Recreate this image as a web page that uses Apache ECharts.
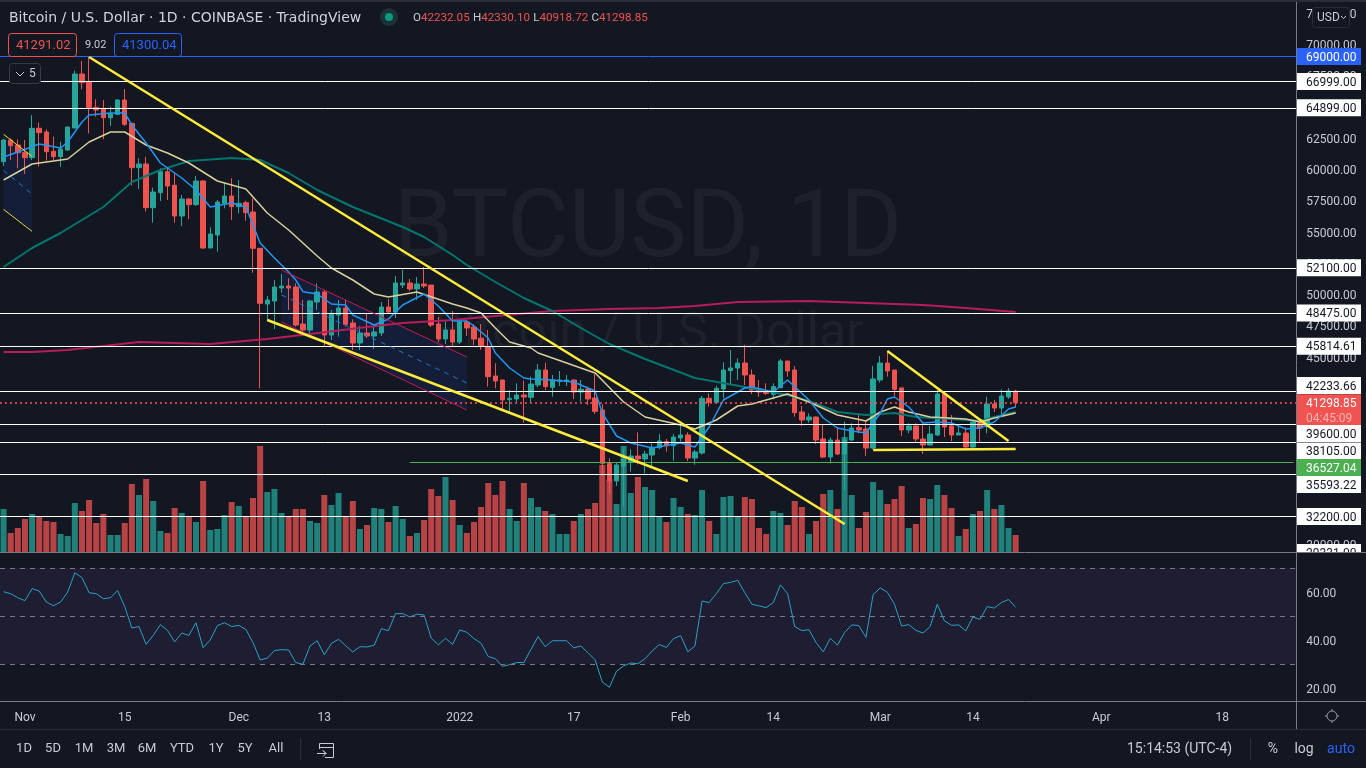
<!DOCTYPE html>
<html>
<head>
<meta charset="utf-8">
<title>BTCUSD</title>
<script src="https://cdn.jsdelivr.net/npm/echarts@6/dist/echarts.min.js"></script>
<style>
  html, body { margin: 0; padding: 0; background: #131722; }
  #box { width: 1366px; height: 768px; }
</style>
</head>
<body>
<div id="box"></div>
<script>
// first bar on screen is Oct 29 2021, the axis runs on past the last candle
const firstDay = Date.UTC(2021, 9, 29);
const dayCount = 182;
const dates = [];
for (let i = 0; i < dayCount; i++) {
  dates.push(new Date(firstDay + i * 86400000).toISOString().slice(0, 10));
}

const tickDates = ['2021-11-01', '2021-11-15', '2021-12-01', '2021-12-13', '2022-01-01', '2022-01-17',
  '2022-02-01', '2022-02-14', '2022-03-01', '2022-03-14', '2022-04-01', '2022-04-18'];
const tickLabels = ['Nov', '15', 'Dec', '13', '2022', '17', 'Feb', '14', 'Mar', '14', 'Apr', '18'];
const priceTicks = [30000, 32500, 35000, 37500, 40000, 42500, 45000, 47500, 50000, 52500, 55000, 57500,
  60000, 62500, 65000, 67500, 70000, 72500];
const rsiTicks = [20, 40, 60];

const openP = [
  60587, 62320, 61920, 61307, 60907, 63253, 62960, 61413, 60987, 61520,
  63280, 67600, 66987, 64933, 64800, 64107, 64373, 65520, 63653, 60107,
  60400, 56907, 58107, 59787, 58693, 56240, 57600, 57147, 59040, 53680,
  54720, 57253, 57840, 56987, 57307, 56560, 53653, 49200, 49440, 50480,
  50640, 50560, 47600, 47120, 49360, 50160, 46720, 48320, 48880, 47680,
  46080, 46880, 46640, 46880, 48960, 48560, 50720, 50880, 50400, 50800,
  50720, 47600, 46400, 47120, 46160, 47760, 47360, 46470, 45770, 43440,
  43120, 41547, 41600, 41920, 41733, 42720, 43920, 42533, 43013, 43040,
  43120, 42160, 42400, 41680, 40720, 36453, 35040, 36240, 36533, 37040,
  36800, 37120, 37707, 38187, 37867, 38480, 38720, 36880, 37280, 41653,
  41333, 42400, 43867, 44080, 44480, 43520, 42400, 42240, 41973, 42507,
  44640, 43920, 40560, 39920, 40160, 38400, 36960, 38320, 37200, 38320,
  39307, 39200, 37680, 43120, 44480, 43920, 42480, 39120, 39440, 38400,
  37920, 38720, 42000, 39440, 38720, 38880, 37760, 39680, 39387, 41200,
  40880, 41760, 42232.05];
const closeP = [
  62320, 61867, 61307, 60907, 63253, 62907, 61387, 60987, 61600, 63360,
  67600, 66907, 64907, 64720, 64107, 64400, 65520, 63573, 60107, 60400,
  56907, 58160, 59787, 58640, 56240, 57600, 57147, 59040, 53680, 54800,
  57360, 57840, 56987, 57253, 56507, 53653, 49253, 49520, 50560, 50640,
  50480, 47520, 47120, 49440, 50160, 46720, 48453, 48880, 47573, 46080,
  46880, 46640, 46960, 48960, 48560, 50880, 50880, 50400, 50800, 50640,
  47520, 46400, 47120, 46160, 47760, 47280, 46400, 45790, 43390, 43040,
  41520, 41653, 41920, 41760, 42800, 43920, 42587, 43120, 43120, 43120,
  42160, 42373, 41600, 40613, 36453, 35040, 36320, 36773, 37040, 36800,
  37200, 37733, 38240, 37867, 38560, 38720, 36880, 37360, 41653, 41333,
  42453, 43920, 44080, 44480, 43520, 42320, 42160, 42053, 42587, 44640,
  43840, 40507, 39920, 40160, 38320, 36960, 38320, 37200, 38320, 39280,
  39120, 37680, 43200, 44480, 43840, 42373, 39120, 39440, 38400, 37920,
  38800, 42000, 39360, 38720, 38880, 37760, 39760, 39280, 41200, 40880,
  41840, 42240, 41298.85];
const highP = [
  62373, 62453, 62373, 62320, 64320, 63707, 63173, 62587, 62187, 63387,
  67867, 68640, 68987, 65573, 65520, 64987, 65573, 66400, 63653, 60853,
  60987, 58507, 60053, 60053, 59653, 57920, 57653, 59440, 59120, 55333,
  57520, 58907, 59253, 59120, 57467, 57653, 53653, 49840, 51120, 51600,
  51253, 50853, 49520, 49520, 50853, 50320, 48720, 49520, 49520, 47973,
  47440, 48400, 47520, 49360, 49600, 51440, 51950, 51200, 51360, 52160,
  50720, 48160, 47920, 48640, 47970, 47920, 47600, 47600, 47120, 44453,
  43173, 42320, 42853, 43067, 43387, 44400, 44507, 43520, 43840, 43520,
  43173, 43120, 42587, 43600, 41200, 36853, 36533, 37600, 37573, 38933,
  37440, 38053, 38800, 38400, 38800, 39573, 38933, 37520, 41840, 42053,
  42667, 44533, 45520, 44853, 45920, 43973, 43120, 42853, 42853, 44800,
  44640, 44240, 41040, 40453, 40187, 39520, 38533, 39307, 39787, 39653,
  40320, 39787, 44240, 45040, 45467, 43920, 42533, 39653, 39653, 39653,
  39440, 42320, 42187, 40320, 39467, 39333, 39920, 39973, 41787, 41520,
  42373, 42480, 42330.1];
const lowP = [
  60240, 60720, 60053, 59600, 60720, 60187, 60667, 60720, 60187, 61467,
  63280, 66373, 62853, 64187, 62373, 63440, 64320, 63440, 58693, 58400,
  56613, 55707, 57440, 57520, 55707, 55440, 55973, 57040, 53627, 53680,
  53387, 56853, 55920, 56453, 55867, 51707, 42453, 47867, 47200, 50107,
  48720, 47387, 46853, 46800, 48720, 45840, 46320, 46587, 47387, 45520,
  45520, 46480, 45600, 46640, 48507, 48080, 50480, 50240, 49520, 50480,
  47360, 46160, 46000, 45760, 46000, 46640, 45900, 45520, 42590, 42453,
  40720, 40507, 41307, 39707, 41307, 42533, 42320, 41787, 42640, 42640,
  41600, 41387, 41120, 40400, 35467, 34053, 34640, 32987, 35787, 36373,
  35653, 36240, 37573, 37387, 36667, 38187, 36640, 36347, 37147, 40987,
  41307, 41653, 42720, 43120, 42720, 42000, 41787, 41920, 41573, 42453,
  43387, 40187, 39440, 39707, 38000, 36880, 36453, 37120, 34320, 38240,
  38853, 37040, 37573, 42907, 43387, 41840, 38640, 38853, 38160, 37200,
  37920, 38640, 38560, 38240, 38720, 37600, 37600, 38160, 38853, 40560,
  40187, 41600, 40918.72];

// volume axis has no scale on screen, so these are relative
const volumeV = [
  43, 19, 24, 33, 38, 35, 31, 30, 18, 16, 49, 41, 52, 29, 38, 17, 17, 29, 68, 57,
  73, 51, 21, 19, 44, 39, 35, 30, 71, 22, 23, 37, 50, 46, 35, 54, 106, 60, 63, 39,
  35, 43, 43, 31, 29, 57, 47, 59, 35, 51, 23, 27, 44, 43, 30, 46, 33, 16, 19, 32,
  63, 56, 75, 52, 27, 19, 30, 45, 69, 57, 71, 43, 31, 69, 54, 45, 41, 38, 18, 18,
  31, 38, 43, 49, 87, 72, 48, 106, 59, 75, 65, 62, 35, 30, 54, 45, 38, 37, 62, 31,
  18, 55, 56, 35, 55, 53, 24, 18, 41, 39, 27, 51, 45, 18, 31, 58, 62, 43, 115, 57,
  24, 40, 70, 62, 48, 53, 66, 24, 28, 54, 53, 67, 57, 44, 16, 23, 38, 41, 62, 43,
  47, 24, 17];

const rsiV = [
  60.1, 59.3, 57.6, 56.4, 61.4, 60.4, 55.8, 54.3, 55.8, 60, 68, 66, 59.7, 59.3, 57.2, 57.6, 60.6, 53.9, 45, 45.6,
  38.2, 41.9, 46.4, 44, 39.2, 42.9, 41.9, 47.2, 36.8, 40, 46, 47.2, 45.6, 46.1, 44.4, 38.9, 31.7, 32.4, 35.6, 36,
  35.8, 30.6, 29.9, 37.5, 39.7, 33.8, 38.6, 40.3, 37.6, 35, 37.2, 37.1, 37.8, 44.7, 43.9, 51, 51, 49.6, 50.8, 50.4,
  40.8, 38, 40.7, 38.2, 44.2, 43.2, 40.6, 38.6, 33.1, 32.2, 29, 29.7, 30.6, 30.6, 36.1, 41.4, 37.2, 39.7, 39.7, 39.7,
  36.7, 37.5, 34.7, 31.7, 22.5, 20.3, 27, 29.2, 30.4, 30.1, 32.2, 35.4, 38.1, 36.9, 40.6, 41.8, 35.1, 37.5, 56.2, 55.6,
  59.3, 63.5, 64, 64.9, 59.7, 54.9, 54.2, 53.5, 55.6, 63, 59.3, 45.6, 43.9, 44.3, 38.9, 35.1, 40.7, 37.9, 43.1, 46.3,
  46, 41.1, 58.9, 61.7, 59.9, 54.9, 45.8, 46.4, 44, 42.9, 45.6, 54.9, 48, 46.1, 46.3, 43.8, 49.6, 48.6, 53.9, 53.3,
  55.6, 56.9, 53.6];

// moving averages as [bar index, price]
const maBlue = [[0, 60960], [2, 61360], [5, 62000], [8, 61680], [9, 62160], [11, 63760], [12, 64320], [15, 64480],
  [17, 64480], [18, 63520], [20, 62080], [22, 60480], [23, 60080], [25, 59280], [27, 58320], [29, 56960], [32, 57280],
  [34, 56960], [36, 54080], [38, 52880], [40, 51760], [41, 51120], [42, 50184], [44, 50000], [46, 49200], [48, 49120],
  [49, 48320], [52, 47520], [54, 48000], [56, 49120], [59, 50000], [61, 49040], [63, 47840], [65, 47840], [66, 47440],
  [68, 46480], [69, 45280], [71, 44080], [73, 43280], [74, 43200], [77, 43120], [80, 42960], [83, 42240], [84, 40480],
  [86, 38640], [88, 38080], [91, 37680], [95, 38080], [97, 37760], [99, 39360], [101, 41520], [104, 42480], [105, 42560],
  [108, 42160], [110, 43120], [113, 41520], [115, 40080], [117, 39280], [119, 39040], [121, 38880], [123, 40480],
  [124, 41600], [125, 41760], [127, 40960], [129, 39680], [131, 39760], [133, 39680], [135, 39200], [137, 39280],
  [139, 39760], [141, 40800], [142, 40960]];
const maTan = [[0, 59120], [4, 60400], [9, 60800], [12, 62160], [15, 62960], [17, 62960], [20, 61920], [23, 61280],
  [26, 60480], [30, 59040], [34, 58400], [37, 56480], [40, 55120], [44, 53040], [46, 52080], [49, 51120], [52, 50000],
  [54, 49760], [58, 50160], [63, 49200], [65, 48880], [67, 48480], [69, 47280], [71, 46160], [74, 45680], [75, 45280],
  [79, 44480], [83, 43680], [87, 41360], [90, 40160], [95, 39520], [97, 39200], [100, 39920], [103, 41040], [105, 41200],
  [110, 42000], [113, 41360], [117, 40320], [121, 39840], [123, 40560], [125, 40960], [127, 40560], [130, 40160],
  [135, 40000], [137, 39760], [139, 40080], [142, 40480]];
const maTeal = [[0, 52160], [4, 53680], [8, 54880], [14, 56960], [18, 58960], [22, 59920], [26, 60640], [32, 60880],
  [36, 60720], [40, 59680], [44, 58320], [49, 56960], [56, 55360], [59, 54560], [63, 53120], [65, 52320], [69, 50960],
  [73, 49680], [77, 48640], [81, 47280], [85, 46000], [90, 44800], [97, 43280], [104, 42560], [110, 41920], [113, 41440],
  [117, 40560], [121, 40320], [125, 40480], [128, 40160], [133, 40000], [137, 39840], [139, 40160], [142, 40560]];
const maRed = [[0, 45360], [4, 45360], [9, 45520], [14, 45840], [19, 46160], [29, 46000], [37, 46400], [43, 46800],
  [51, 47360], [56, 47680], [63, 47920], [69, 48240], [77, 48640], [85, 48800], [92, 48880], [97, 49040], [103, 49360],
  [113, 49440], [121, 49280], [129, 49120], [135, 48880], [142, 48560]];

// drawings on the chart, in [bar index, price]
const yellowLines = [
  [[12, 68960], [118, 31600]],
  [[37, 47920], [96, 35040]],
  [[124, 45440], [141, 38240]],
  [[122, 37520], [142, 37600]]
];
const thinYellowLines = [
  [[0, 62776], [4, 61008]],
  [[0, 56768], [4, 55008]]
];
const pinkLines = [
  [[39, 51920], [65, 44960]],
  [[39, 47760], [65, 40720]]
];
const dashLines = [
  [[39, 49920], [65, 42880]],
  [[0, 59880], [4, 58000]]
];
const channelFills = [
  [[39, 51920], [65, 44960], [65, 40720], [39, 47760]],
  [[0, 62776], [4, 61008], [4, 55008], [0, 56768]]
];

const whiteLevels = [66999, 64899, 52100, 48475, 45814.61, 42233.66, 39600, 38105, 35593.22, 32200];
const blueLevel = 69000;
const greenLevel = 36527.04;
const lastPrice = 41298.85;

// tags on the price scale; tagAt is where the tag sits after the overlapping ones pushed it aside
const tagTexts = ['66999.00', '69000.00', '64899.00', '52100.00', '48475.00', '45814.61', '42233.66', '04:45:09', '41298.85',
  '39600.00', '38105.00', '36527.04', '35593.22', '32200.00', '29331.00'];
const tagAt = [66999, 69000, 64899, 52100, 48475, 45814.61, 42680, 40080, 41298.85, 38840, 37440, 36120, 34760, 32200, 29320];
const tagBg = ['#fff', '#2962ff', '#fff', '#fff', '#fff', '#fff', '#fff', '#f05350', '#f05350', '#fff', '#fff', '#4caf50', '#fff', '#fff', '#fff'];
const tagFg = ['#131722', '#fff', '#131722', '#131722', '#131722', '#131722', '#131722', '#f9b5b3', '#fff', '#131722', '#131722', '#fff', '#131722', '#131722', '#131722'];

const UP = '#26a69a';
const DOWN = '#ef5350';
const BG = '#131722';
const GREY = '#c8cbd3';
const FONT = 'Roboto, "Liberation Sans", sans-serif';

const candleData = openP.map((o, i) => [o, closeP[i], lowP[i], highP[i]]);
const volumeData = volumeV.map((v, i) => ({
  value: v,
  itemStyle: { color: closeP[i] >= openP[i] ? 'rgba(38,166,154,.75)' : 'rgba(239,83,80,.75)' }
}));

function lineSeries(data, color, width, z, type) {
  return {
    type: 'line', data: data, xAxisIndex: 0, yAxisIndex: 0, z: z,
    showSymbol: false, symbol: 'none', silent: true, animation: false,
    lineStyle: { color: color, width: width, type: type || 'solid' }
  };
}

function text(x, y, str, size, fill, extra) {
  return {
    type: 'text', x: x, y: y, z: 100, silent: true,
    style: Object.assign({ text: str, fill: fill, font: size + 'px ' + FONT, textVerticalAlign: 'middle' }, extra || {})
  };
}
function rect(x, y, w, h, fill, stroke, r, z) {
  return {
    type: 'rect', z: z === undefined ? 100 : z, silent: true,
    shape: { x: x, y: y, width: w, height: h, r: r || 0 },
    style: { fill: fill, stroke: stroke || null, lineWidth: 1 }
  };
}
function seg(x1, y1, x2, y2, color) {
  return {
    type: 'line', z: 100, silent: true,
    shape: { x1: x1, y1: y1, x2: x2, y2: y2 },
    style: { stroke: color, lineWidth: 1 }
  };
}

const rangeLabels = ['1D', '5D', '1M', '3M', '6M', 'YTD', '1Y', '5Y', 'All'];
const rangeX = [24, 53, 84, 116, 147, 182, 216, 245, 276];

const chrome = [
  // watermark goes under the series
  { type: 'text', x: 648, y: 232, z: 0, silent: true, style: { text: 'BTCUSD, 1D', fill: 'rgba(120,123,134,.1)', font: '95px ' + FONT, textAlign: 'center', textVerticalAlign: 'middle' } },
  { type: 'text', x: 648, y: 335, z: 0, silent: true, style: { text: 'Bitcoin / U.S. Dollar', fill: 'rgba(120,123,134,.1)', font: '50px ' + FONT, textAlign: 'center', textVerticalAlign: 'middle' } },

  rect(0, 0, 1366, 2, '#2a2e39'),
  rect(1296, 552.5, 70, 12, BG),
  seg(0, 552.5, 1366, 552.5, '#787b86'),
  seg(0, 701.5, 1366, 701.5, '#787b86'),
  seg(0, 729.5, 1366, 729.5, '#2a2e39'),
  seg(1296.5, 2, 1296.5, 729, '#787b86'),

  text(9, 18, 'Bitcoin / U.S. Dollar · 1D · COINBASE · TradingView', 14, '#d1d4dc', { font: '14px "DejaVu Sans", sans-serif' }),
  { type: 'circle', z: 100, silent: true, shape: { cx: 389, cy: 17, r: 9 }, style: { fill: '#1d3236' } },
  { type: 'circle', z: 100, silent: true, shape: { cx: 389, cy: 17, r: 4 }, style: { fill: '#089981' } },
  {
    type: 'text', x: 413, y: 18, z: 100, silent: true,
    style: {
      text: '{g|O}{r|42232.05} {g|H}{r|42330.10} {g|L}{r|40918.72} {g|C}{r|41298.85}',
      textVerticalAlign: 'middle',
      rich: {
        g: { fill: GREY, font: '11.6px ' + FONT },
        r: { fill: DOWN, font: '11.6px ' + FONT }
      }
    }
  },
  rect(8.5, 33.5, 68, 23, BG, DOWN, 3),
  text(16, 45.5, '41291.02', 13, DOWN),
  text(85, 45, '9.02', 11, GREY),
  rect(114.5, 33.5, 67, 23, BG, '#2962ff', 3),
  text(122, 45.5, '41300.04', 13, '#2962ff'),
  rect(9.5, 63.5, 31, 20, BG, '#363a45', 3),
  { type: 'polyline', z: 100, silent: true, shape: { points: [[16, 72], [20, 76], [24, 72]] }, style: { stroke: GREY, fill: null, lineWidth: 1 } },
  text(29, 73.5, '5', 12, GREY),

  rect(1312.5, 7.5, 37, 20, BG, '#2a2e39', 3),
  text(1317, 17.5, 'USD', 12, GREY),
  { type: 'polyline', z: 100, silent: true, shape: { points: [[1341, 16], [1343.5, 18.5], [1346, 16]] }, style: { stroke: GREY, fill: null, lineWidth: 1 } },

  { type: 'circle', z: 100, silent: true, shape: { cx: 1332, cy: 716, r: 5 }, style: { fill: null, stroke: '#9598a1', lineWidth: 1 } },
  seg(1332, 709, 1332, 711, '#9598a1'), seg(1332, 721, 1332, 723, '#9598a1'), seg(1325, 716, 1327, 716, '#9598a1'), seg(1337, 716, 1339, 716, '#9598a1'),

  seg(300.5, 738, 300.5, 760, '#2a2e39'),
  { type: 'polyline', z: 100, silent: true, shape: { points: [[319.5, 749], [319.5, 743.5], [333.5, 743.5], [333.5, 757.5], [325, 757.5]] }, style: { stroke: GREY, fill: null, lineWidth: 1 } },
  seg(320, 747.5, 333, 747.5, GREY),
  { type: 'polyline', z: 100, silent: true, shape: { points: [[317, 753.5], [326, 753.5], [323, 750.5], [326, 753.5], [323, 756.5]] }, style: { stroke: GREY, fill: null, lineWidth: 1 } },
  text(1127, 749, '15:14:53 (UTC-4)', 14, GREY),
  seg(1250.5, 738, 1250.5, 760, '#2a2e39'),
  text(1273, 749, '%', 14, GREY, { textAlign: 'center' }),
  text(1304, 749, 'log', 14, GREY, { textAlign: 'center' }),
  text(1341, 749, 'auto', 14, '#2962ff', { textAlign: 'center' })
];
rangeLabels.forEach((s, i) => {
  chrome.push(text(rangeX[i], 749, s, 13, GREY, { textAlign: 'center' }));
});

const box = document.getElementById('box');
const chart = echarts.init(box, null, { renderer: 'canvas' });

const gridLeft = -0.46;
const gridWidth = 1297.66;

const option = {
  backgroundColor: BG,
  animation: false,
  graphic: { elements: chrome },
  grid: [
    { left: gridLeft, width: gridWidth, top: 2, height: 550 },
    { left: gridLeft, width: gridWidth, top: 352, height: 200 },
    { left: gridLeft, width: gridWidth, top: 553, height: 148 }
  ],
  xAxis: [
    { type: 'category', gridIndex: 0, data: dates, show: false },
    { type: 'category', gridIndex: 1, data: dates, show: false },
    {
      type: 'category', gridIndex: 2, data: dates,
      axisLine: { show: false }, axisTick: { show: false }, splitLine: { show: false },
      axisLabel: {
        color: GREY, fontSize: 12, fontFamily: FONT, margin: 11, hideOverlap: false,
        interval: (i, v) => tickDates.indexOf(v) >= 0,
        formatter: v => tickLabels[tickDates.indexOf(v)]
      }
    }
  ],
  yAxis: [
    {
      type: 'value', gridIndex: 0, position: 'right', min: 29360, max: 73360,
      axisLine: { show: false }, axisTick: { show: false }, splitLine: { show: false },
      axisLabel: {
        customValues: priceTicks, color: GREY, fontSize: 12, fontFamily: FONT, margin: 9,
        verticalAlign: 'top', lineHeight: 4, // sits the text 2px under its tick
        formatter: v => v.toFixed(2)
      }
    },
    { type: 'value', gridIndex: 1, min: 0, max: 200, show: false },
    {
      type: 'value', gridIndex: 2, position: 'right', min: 14.58, max: 76.25,
      axisLine: { show: false }, axisTick: { show: false }, splitLine: { show: false },
      axisLabel: {
        customValues: rsiTicks, color: GREY, fontSize: 12, fontFamily: FONT, margin: 9,
        verticalAlign: 'top', lineHeight: 4,
        formatter: v => v.toFixed(2)
      }
    }
  ],
  series: [
    {
      type: 'custom', xAxisIndex: 0, yAxisIndex: 0, z: 1, silent: true,
      data: channelFills.map((c, i) => i),
      renderItem: (params, api) => ({
        type: 'polygon',
        shape: { points: channelFills[params.dataIndex].map(p => api.coord(p)) },
        style: { fill: 'rgba(41,98,255,.1)' }
      })
    },
    {
      type: 'candlestick', xAxisIndex: 0, yAxisIndex: 0, z: 2, silent: true,
      data: candleData, barWidth: 5,
      itemStyle: { color: UP, color0: DOWN, borderColor: UP, borderColor0: DOWN, borderWidth: 1 }
    },
    {
      type: 'bar', xAxisIndex: 1, yAxisIndex: 1, z: 3, silent: true,
      data: volumeData, barWidth: 6
    },
    lineSeries(maRed, '#b71c5c', 2, 4),
    lineSeries(maTeal, '#05756f', 2, 4),
    lineSeries(maTan, '#d8cf9c', 1.5, 4),
    lineSeries(maBlue, '#2196f3', 1.5, 4),
    {
      type: 'line', xAxisIndex: 0, yAxisIndex: 0, z: 5, silent: true, data: [],
      markLine: {
        symbol: 'none', silent: true, animation: false, label: { show: false },
        data: whiteLevels.map(v => ({ yAxis: v, lineStyle: { color: '#fff', width: 1, type: 'solid' } })).concat([
          { yAxis: blueLevel, lineStyle: { color: '#2962ff', width: 1, type: 'solid' } },
          { yAxis: lastPrice, lineStyle: { color: '#ff5252', width: 1.6, type: [2, 3] } },
          [
            { xAxis: dates[57], yAxis: greenLevel, lineStyle: { color: '#4caf50', width: 1, type: 'solid' } },
            { xAxis: dates[dayCount - 1], yAxis: greenLevel }
          ]
        ])
      }
    }
  ]
};

pinkLines.forEach(l => option.series.push(lineSeries(l, '#c2185b', 1, 5)));
dashLines.forEach(l => option.series.push(lineSeries(l, '#2176c9', 1, 5, [5, 5])));
yellowLines.forEach(l => option.series.push(lineSeries(l, '#ffeb3b', 2.5, 6)));
thinYellowLines.forEach(l => option.series.push(lineSeries(l, '#e6d53a', 1, 6)));

// price scale tags
option.series.push({
  type: 'custom', xAxisIndex: 0, yAxisIndex: 0, z: 8, silent: true,
  data: tagTexts.map((t, i) => i),
  renderItem: (params, api) => {
    const i = params.dataIndex;
    const y = api.coord([0, tagAt[i]])[1];
    return {
      type: 'group',
      children: [
        { type: 'rect', shape: { x: 1296, y: y - 8.5, width: 65, height: 17 }, style: { fill: tagBg[i] } },
        { type: 'text', style: { text: tagTexts[i], x: 1306, y: y + 1, fill: tagFg[i], font: '12px ' + FONT, textVerticalAlign: 'middle' } }
      ]
    };
  }
});

// RSI with its 70-30 band
option.series.push({
  type: 'line', xAxisIndex: 2, yAxisIndex: 2, data: rsiV, z: 4, silent: true,
  showSymbol: false, symbol: 'none',
  lineStyle: { color: '#27a3c4', width: 1 },
  markArea: {
    silent: true,
    itemStyle: { color: 'rgba(126,87,194,.1)' },
    data: [[{ yAxis: 70 }, { yAxis: 30 }]]
  },
  markLine: {
    symbol: 'none', silent: true, label: { show: false },
    lineStyle: { color: '#787b86', width: 1, type: [5, 5] },
    data: [{ yAxis: 70 }, { yAxis: 50 }, { yAxis: 30 }]
  }
});

chart.setOption(option);
</script>
</body>
</html>
